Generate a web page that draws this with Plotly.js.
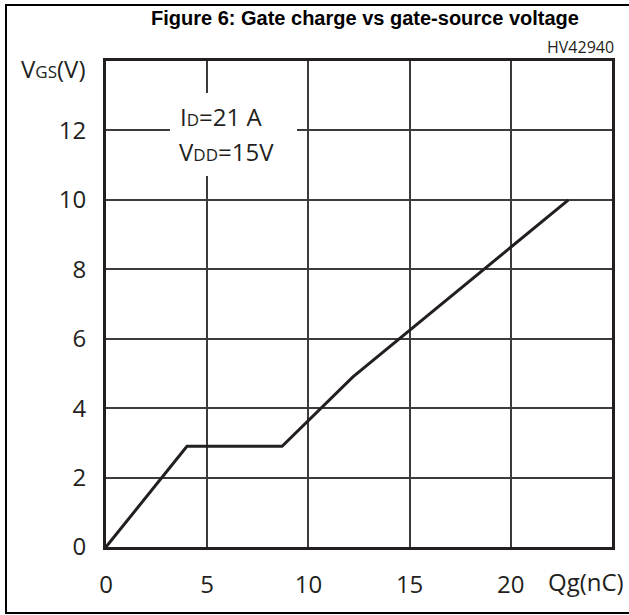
<!DOCTYPE html>
<html>
<head>
<meta charset="utf-8">
<script src="https://cdn.plot.ly/plotly-3.0.1.min.js"></script>
<style>html,body{margin:0;padding:0;background:#fff;}#chart{width:629px;height:615px;}</style>
</head>
<body>
<div id="chart"></div>
<script>
// Data
const qg = [0, 4.0, 8.7, 12.2, 22.85];       // gate charge, nC
const vgs = [0, 2.9, 2.9, 4.9, 10.0];        // gate-source voltage, V
const xTicks = [0, 5, 10, 15, 20];
const xTickLabels = ['0', '5', '10', '15', '20'];
const yTicks = [0, 2, 4, 6, 8, 10, 12];
const yTickLabels = ['0', '2', '4', '6', '8', '10', '12'];

const INK = '#231f20';
const GRID = '#3d3a3b';
const FONT = 'Open Sans, Noto Sans, sans-serif';
const W = 629, H = 615;
const L = 106, R = 612, T = 61, B = 547;
const px = x => (x - L) / (R - L);
const py = y => (B - y) / (B - T);

const trace = {
  x: qg, y: vgs, type: 'scatter', mode: 'lines',
  line: {color: INK, width: 3}, hoverinfo: 'skip', showlegend: false
};

const layout = {
  width: W, height: H,
  margin: {l: L, r: W - R, t: T, b: H - B, pad: 0},
  paper_bgcolor: '#fff', plot_bgcolor: '#fff',
  font: {family: FONT, color: INK},
  xaxis: {
    range: [0, 25], tickvals: xTicks, ticktext: xTickLabels,
    showgrid: true, gridcolor: GRID, gridwidth: 2, zeroline: false,
    showline: true, mirror: true, linecolor: INK, linewidth: 3,
    ticks: 'outside', ticklen: 14, tickcolor: 'rgba(0,0,0,0)',
    tickfont: {family: FONT, size: 24, color: INK}, fixedrange: true
  },
  yaxis: {
    range: [0, 14], tickvals: yTicks, ticktext: yTickLabels,
    showgrid: true, gridcolor: GRID, gridwidth: 2, zeroline: false,
    showline: true, mirror: true, linecolor: INK, linewidth: 3,
    ticks: 'outside', ticklen: 12, tickcolor: 'rgba(0,0,0,0)',
    tickfont: {family: FONT, size: 24, color: INK}, fixedrange: true
  },
  shapes: [
    {type: 'rect', xref: 'paper', yref: 'paper', layer: 'above',
     x0: px(170), x1: px(297), y0: py(176), y1: py(93),
     fillcolor: '#fff', line: {width: 0}},
    {type: 'rect', xref: 'paper', yref: 'paper', layer: 'below',
     x0: px(6), x1: px(645), y0: py(613), y1: py(5),
     fillcolor: 'rgba(0,0,0,0)', line: {color: '#000', width: 2}}
  ],
  annotations: [
    {text: '<b>Figure 6: Gate charge vs gate-source voltage</b>', xref: 'paper', yref: 'paper',
     x: px(365), y: py(18), xanchor: 'center', yanchor: 'middle', showarrow: false,
     font: {family: 'Liberation Sans, Arial, sans-serif', size: 20, color: '#000'}},
    {text: 'HV42940', xref: 'paper', yref: 'paper',
     x: px(616), y: py(47), xanchor: 'right', yanchor: 'middle', showarrow: false,
     font: {family: FONT, size: 16, color: INK}},
    {text: 'V<span style="font-size:17px">GS</span>(V)', xref: 'paper', yref: 'paper',
     x: px(53), y: py(68), xanchor: 'center', yanchor: 'middle', showarrow: false,
     font: {family: FONT, size: 24, color: INK}},
    {text: 'Qg(nC)', xref: 'paper', yref: 'paper',
     x: px(586), y: py(581), xanchor: 'center', yanchor: 'middle', showarrow: false,
     font: {family: FONT, size: 24, color: INK}},
    {text: 'I<span style="font-size:17px">D</span>=21 A', xref: 'paper', yref: 'paper',
     x: px(221), y: py(116), xanchor: 'center', yanchor: 'middle', showarrow: false,
     font: {family: FONT, size: 24, color: INK}},
    {text: 'V<span style="font-size:17px">DD</span>=15V', xref: 'paper', yref: 'paper',
     x: px(226), y: py(151), xanchor: 'center', yanchor: 'middle', showarrow: false,
     font: {family: FONT, size: 24, color: INK}}
  ]
};

Plotly.newPlot('chart', [trace], layout, {displayModeBar: false});
</script>
</body>
</html>
